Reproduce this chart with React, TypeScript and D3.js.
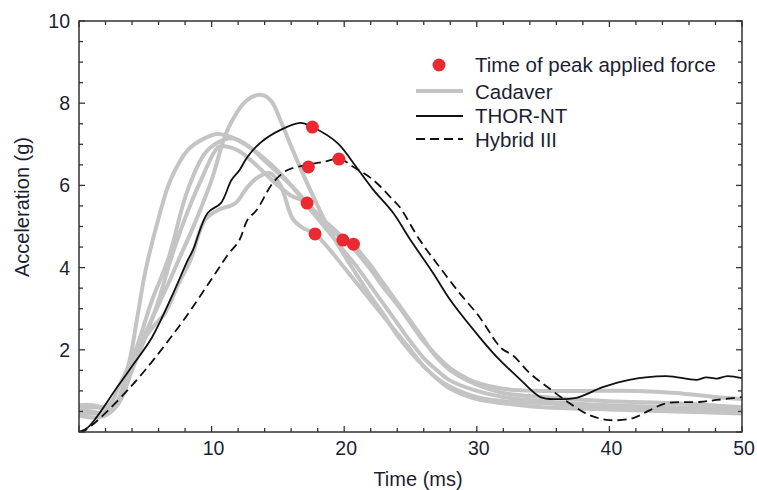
import React from "react";
import * as d3 from "d3";

type P = [number, number];

const cadaverA: P[] = [[0,0.55],[1,0.6],[2,0.6],[2.5,0.75],[3,1.1],[3.7,1.6],[4.4,2.8],[5,3.9],[6,5.2],[6.9,6.13],[8.2,6.86],[9.5,7.15],[10.5,7.25],[12,7.1],[13,6.9],[14,6.6],[15,6.3],[16,6.0],[17,5.65],[18,5.3],[19,5.0],[20,4.7],[21,4.35],[22,3.95],[23,3.5],[24,3.1],[25,2.65],[26,2.2],[27,1.85],[28,1.55],[29,1.35],[30,1.2],[32,1.05],[35,1.0],[38,1.0],[42,1.0],[45,0.95],[48,0.85],[50,0.8]];
const cadaverB: P[] = [[0,0.45],[1,0.45],[2,0.5],[3,0.8],[4,1.6],[5,2.4],[6,3.1],[7,3.8],[7.5,4.18],[8.5,4.9],[10,6.13],[11.2,7.35],[12.7,8.08],[13.8,8.2],[14.5,8.05],[15.3,7.5],[16,6.95],[17,6.2],[18,5.5],[19,4.85],[20,4.3],[21,3.8],[22,3.3],[23,2.85],[24,2.35],[25,1.95],[26,1.6],[27,1.3],[28,1.1],[30,0.85],[32,0.75],[35,0.7],[40,0.6],[45,0.55],[50,0.5]];
const cadaverC: P[] = [[0,0.65],[1,0.65],[2,0.6],[2.8,0.7],[3.5,1.3],[4.5,2.2],[5.5,3.2],[6.7,4.18],[8.2,5.89],[9.5,6.78],[10.5,7.05],[11.5,7.15],[12,7.1],[13,6.9],[14,6.65],[15,6.35],[16,6.0],[17,5.6],[18,5.2],[19,4.9],[20,4.7],[20.7,4.57],[21,4.45],[22,4.05],[23,3.6],[24,3.15],[25,2.7],[26,2.25],[27,1.8],[28,1.5],[30,1.15],[32,0.95],[35,0.85],[40,0.75],[45,0.7],[50,0.6]];
const cadaverD: P[] = [[0,0.4],[1,0.35],[2,0.4],[3,0.7],[4,1.5],[5,2.3],[6,3.2],[6.9,4.18],[8,5.2],[9.2,6.13],[10.5,6.93],[11,6.95],[12,6.85],[13,6.6],[14,6.3],[15,6.0],[16,5.75],[17.2,5.57],[18,5.2],[19,4.8],[20,4.4],[21,4.0],[22,3.55],[23,3.1],[24,2.65],[25,2.2],[26,1.8],[27,1.5],[28,1.25],[30,1.0],[32,0.85],[35,0.75],[40,0.65],[45,0.6],[50,0.55]];
const cadaverE: P[] = [[0,0.5],[1,0.5],[2,0.45],[3,0.8],[4,1.6],[5,2.3],[5.7,2.6],[6.5,2.9],[7.5,3.6],[8.4,4.18],[9.5,5.16],[10.5,5.4],[11.8,5.57],[12.7,5.96],[13.5,6.2],[14.4,6.3],[15.2,6.0],[16.1,5.2],[16.9,4.96],[17.8,4.82],[19,4.4],[20,4.0],[21,3.6],[22,3.2],[23,2.8],[24,2.4],[25,2.0],[26,1.6],[27,1.3],[28,1.05],[30,0.8],[32,0.7],[35,0.6],[40,0.55],[45,0.5],[50,0.45]];
const cadaverSeries: P[][] = [cadaverA, cadaverB, cadaverC, cadaverD, cadaverE];

const thorNT: P[] = [[0,0],[0.7,0.12],[2.9,1.1],[4,1.6],[5.5,2.3],[7,3.3],[8.2,4.18],[8.6,4.43],[9.7,5.33],[10.7,5.57],[11.5,6.13],[12.1,6.37],[12.7,6.69],[13.65,7.03],[15.2,7.35],[16.7,7.52],[17.6,7.42],[19.5,7.03],[20.7,6.54],[22.2,5.89],[23.7,5.33],[25,4.67],[26.7,3.87],[28,3.21],[30.2,2.31],[31.5,1.83],[33.3,1.27],[34.8,0.85],[36,0.8],[37.5,0.83],[39.5,1.09],[41.5,1.27],[44.3,1.36],[46.6,1.27],[47.3,1.33],[48.1,1.3],[48.9,1.36],[50,1.31]];
const hybridIII: P[] = [[0,0],[0.5,0.05],[3.9,1.1],[7.5,2.55],[10,3.72],[11.2,4.3],[12.1,4.67],[12.7,5.16],[13.4,5.4],[14.6,6.05],[15.7,6.37],[17.2,6.5],[18.4,6.57],[19.7,6.64],[20.7,6.45],[22.2,6.13],[23.7,5.64],[24.2,5.47],[25.7,4.67],[27.2,4.01],[28.7,3.38],[30.2,2.8],[31.5,2.17],[32,2.0],[32.7,1.87],[34,1.43],[35.3,1.1],[37,0.7],[38.5,0.41],[40,0.29],[41.8,0.34],[43.1,0.54],[44.3,0.7],[46.8,0.73],[48.1,0.78],[50,0.85]];

const peakForce: P[] = [[17.6,7.42],[17.3,6.45],[19.6,6.64],[17.2,5.57],[17.8,4.82],[19.9,4.67],[20.7,4.57]];

const xTickLabels = [10, 20, 30, 40, 50];
const yTickLabels = [2, 4, 6, 8, 10];
const legendLabels = ["Time of peak applied force", "Cadaver", "THOR-NT", "Hybrid III"];

const W = 757, H = 490;
const L = 79, R = 742, T = 21, B = 432;

export default function App() {
  const x = d3.scaleLinear().domain([0, 50]).range([L, R]);
  const y = d3.scaleLinear().domain([0, 10]).range([B, T]);
  const line = d3.line<P>().x(d => x(d[0])).y(d => y(d[1])).curve(d3.curveCatmullRom.alpha(0.5));
  const xMinor = d3.range(0, 50.01, 2);
  const yMinor = d3.range(0, 10.01, 0.5);
  const axisColor = "#333";
  const font = "Liberation Sans, Arial, sans-serif";
  const labelColor = "#1c1f33";
  return (
    <svg width={W} height={H} style={{ position: "absolute", left: 0, top: 0, background: "#fff" }}>
      <defs>
        <clipPath id="plot"><rect x={L} y={T} width={R - L} height={B - T} /></clipPath>
      </defs>
      <g clipPath="url(#plot)">
        {cadaverSeries.map((s, i) => (
          <path key={i} d={line(s) || ""} fill="none" stroke="#c4c4c4" strokeWidth={4} strokeLinejoin="round" strokeLinecap="round" />
        ))}
        <path d={line(thorNT) || ""} fill="none" stroke="#111" strokeWidth={1.8} />
        <path d={line(hybridIII) || ""} fill="none" stroke="#111" strokeWidth={1.8} strokeDasharray="9,5" />
        {peakForce.map((p, i) => (
          <circle key={i} cx={x(p[0])} cy={y(p[1])} r={6.5} fill="#ea2a30" />
        ))}
      </g>
      <rect x={L} y={T} width={R - L} height={B - T} fill="none" stroke={axisColor} strokeWidth={1.5} />
      {xMinor.map((v, i) => {
        const major = v % 10 === 0;
        const len = major ? 6 : 4;
        return (
          <g key={"x" + i}>
            <line x1={x(v)} x2={x(v)} y1={B} y2={B - len} stroke={axisColor} strokeWidth={1.3} />
            <line x1={x(v)} x2={x(v)} y1={T} y2={T + len} stroke={axisColor} strokeWidth={1.3} />
          </g>
        );
      })}
      {yMinor.map((v, i) => {
        const major = Math.abs(v % 2) < 1e-9;
        const len = major ? 6 : 4;
        return (
          <g key={"y" + i}>
            <line x1={L} x2={L + len} y1={y(v)} y2={y(v)} stroke={axisColor} strokeWidth={1.3} />
            <line x1={R} x2={R - len} y1={y(v)} y2={y(v)} stroke={axisColor} strokeWidth={1.3} />
          </g>
        );
      })}
      {xTickLabels.map(v => (
        <text key={"xl" + v} x={x(v) + 2} y={455} textAnchor="middle" fontFamily={font} fontSize={19.5} fill={labelColor}>{v}</text>
      ))}
      {yTickLabels.map(v => (
        <text key={"yl" + v} x={70} y={y(v) + 7} textAnchor="end" fontFamily={font} fontSize={19.5} fill={labelColor}>{v}</text>
      ))}
      <text x={418} y={486} textAnchor="middle" fontFamily={font} fontSize={20} fill={labelColor}>Time (ms)</text>
      <text transform={`translate(29,207) rotate(-90)`} textAnchor="middle" fontFamily={font} fontSize={20} fill={labelColor}>Acceleration (g)</text>
      <circle cx={439} cy={65} r={6.5} fill="#ea2a30" />
      <line x1={416} x2={463} y1={91} y2={91} stroke="#c4c4c4" strokeWidth={4} />
      <line x1={416} x2={463} y1={116} y2={116} stroke="#111" strokeWidth={1.8} />
      <line x1={416} x2={463} y1={139} y2={139} stroke="#111" strokeWidth={1.8} strokeDasharray="9,5" />
      {legendLabels.map((t, i) => (
        <text key={t} x={475} y={[72, 99, 123, 147][i]} fontFamily={font} fontSize={20.5} fill={labelColor}>{t}</text>
      ))}
    </svg>
  );
}
